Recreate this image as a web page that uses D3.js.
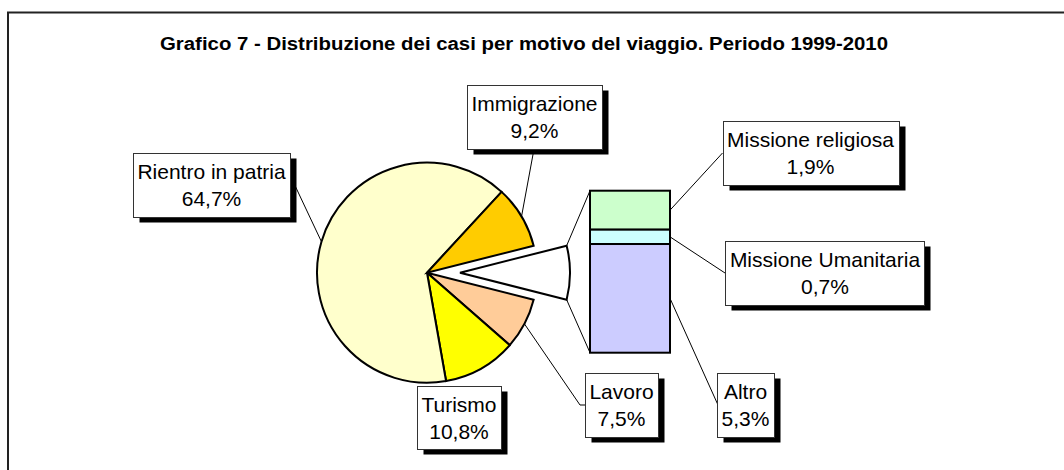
<!DOCTYPE html>
<html>
<head>
<meta charset="utf-8">
<script src="https://cdn.jsdelivr.net/npm/d3@7"></script>
<style>
  html, body { margin: 0; padding: 0; background: #fff; }
  svg { display: block; }
  text { font-family: "Liberation Sans", Arial, sans-serif; fill: #000; }
</style>
</head>
<body>
<svg id="chart" width="1064" height="470"></svg>
<script>
// ---------- data ----------
const title = "Grafico 7 - Distribuzione dei casi per motivo del viaggio. Periodo 1999-2010";
// slices of the pie, clockwise after the split-off slice
const pieCategories = ["Lavoro", "Turismo", "Rientro in patria", "Immigrazione"];
const pieValues = [7.5, 10.8, 64.7, 9.2];
const pieColors = ["#FFCC99", "#FFFF00", "#FFFFCC", "#FFCC00"];
// categories shown in the secondary stacked bar
const barCategories = ["Missione religiosa", "Missione Umanitaria", "Altro"];
const barValues = [1.9, 0.7, 5.3];
const barColors = ["#CCFFCC", "#CCFFFF", "#CCCCFF"];

// ---------- layout ----------
const W = 1064, H = 470;
const cx = 427, cy = 272.7, R = 110, explode = 33;
const barX0 = 590, barX1 = 670, barTop = 190.7, barH = 162;
const labelBoxes = {
  "Rientro in patria":   {cx: 211.5, y: 153, h: 64, anchor: [290, 175]},
  "Immigrazione":        {cx: 534.5, y: 85,  h: 64, anchor: [534, 149]},
  "Turismo":             {cx: 459,   y: 386, h: 63, anchor: null},
  "Lavoro":              {cx: 621.5, y: 373, h: 64, anchor: [586, 405], elbow: [580, 405]},
  "Missione religiosa":  {cx: 810.5, y: 121, h: 64, anchor: [722.5, 153]},
  "Missione Umanitaria": {cx: 825,   y: 241, h: 64, anchor: [725, 273]},
  "Altro":               {cx: 745.5, y: 373, h: 64, anchor: [718, 405]}
};

const loc = d3.formatLocale({decimal: ",", thousands: ".", grouping: [3], currency: ["", "€"]});
const fmt = v => loc.format(".1f")(v) + "%";

const svg = d3.select("#chart");
svg.append("rect").attr("width", W).attr("height", H).attr("fill", "#fff");

// frame (only left and top edges visible)
svg.append("path").attr("d", `M8,${H} V12.5 H${W}`)
  .attr("fill", "none").attr("stroke", "#222").attr("stroke-width", 2);

svg.append("text").attr("x", 524).attr("y", 50).attr("text-anchor", "middle")
  .attr("font-size", 18).attr("font-weight", "bold")
  .attr("textLength", 728).attr("lengthAdjust", "spacingAndGlyphs").text(title);

// ---------- pie ----------
const otherValue = d3.sum(barValues);
const total = otherValue + d3.sum(pieValues);
const pieData = [{name: "__other", value: otherValue, color: "#FFFFFF"}]
  .concat(pieCategories.map((c, i) => ({name: c, value: pieValues[i], color: pieColors[i]})));
const start = Math.PI / 2 - (otherValue / total) * Math.PI;
const arcs = d3.pie().sort(null).value(d => d.value)
  .startAngle(start).endAngle(start + 2 * Math.PI)(pieData);
const arcGen = d3.arc().innerRadius(0).outerRadius(R);
const pt = (a, r, dx = 0) => [cx + dx + r * Math.sin(a), cy - r * Math.cos(a)];

const leaders = svg.append("g").attr("fill", "none").attr("stroke", "#000").attr("stroke-width", 1);
const gPie = svg.append("g");
arcs.forEach(a => {
  const dx = a.data.name === "__other" ? explode : 0;
  gPie.append("path").attr("d", arcGen(a))
    .attr("transform", `translate(${cx + dx},${cy})`)
    .attr("fill", a.data.color).attr("stroke", "#000").attr("stroke-width", 2)
    .attr("stroke-linejoin", "miter");
});

// ---------- bar ----------
const y = d3.scaleLinear().domain([0, otherValue]).range([0, barH]);
let acc = 0;
const barSegs = barCategories.map((c, i) => {
  const s = {name: c, y0: barTop + y(acc), y1: barTop + y(acc + barValues[i]), color: barColors[i], value: barValues[i]};
  acc += barValues[i];
  return s;
});
const gBar = svg.append("g");
barSegs.forEach(s => {
  gBar.append("rect").attr("x", barX0).attr("y", s.y0).attr("width", barX1 - barX0).attr("height", s.y1 - s.y0)
    .attr("fill", s.color).attr("stroke", "#000").attr("stroke-width", 2);
});

// connector lines between split slice and bar
const otherArc = arcs[0];
const pA = pt(otherArc.startAngle, R, explode), pB = pt(otherArc.endAngle, R, explode);
leaders.append("line").attr("x1", pA[0]).attr("y1", pA[1]).attr("x2", barX0).attr("y2", barTop);
leaders.append("line").attr("x1", pB[0]).attr("y1", pB[1]).attr("x2", barX0).attr("y2", barTop + barH);

// ---------- leader lines ----------
arcs.slice(1).forEach(a => {
  const b = labelBoxes[a.data.name];
  if (!b || !b.anchor) return;
  const p = pt((a.startAngle + a.endAngle) / 2, R);
  const pts = [p];
  if (b.elbow) pts.push(b.elbow);
  pts.push(b.anchor);
  leaders.append("path").attr("d", d3.line()(pts));
});
barSegs.forEach(s => {
  const b = labelBoxes[s.name];
  leaders.append("line").attr("x1", barX1).attr("y1", (s.y0 + s.y1) / 2)
    .attr("x2", b.anchor[0]).attr("y2", b.anchor[1]);
});

// ---------- label boxes ----------
const labelItems = pieCategories.map((c, i) => ({name: c, value: pieValues[i]}))
  .concat(barCategories.map((c, i) => ({name: c, value: barValues[i]})));
const gLab = svg.append("g");
labelItems.forEach(d => {
  const b = labelBoxes[d.name];
  const g = gLab.append("g");
  const shadow = g.append("rect").attr("fill", "#000");
  const box = g.append("rect").attr("fill", "#fff").attr("stroke", "#333").attr("stroke-width", 1);
  const t1 = g.append("text").attr("x", b.cx).attr("y", b.y + 26).attr("text-anchor", "middle")
    .attr("font-size", 21).text(d.name);
  const t2 = g.append("text").attr("x", b.cx).attr("y", b.y + 52.5).attr("text-anchor", "middle")
    .attr("font-size", 21).text(fmt(d.value));
  const w = Math.max(t1.node().getComputedTextLength(), t2.node().getComputedTextLength()) + 9;
  const x = Math.round(b.cx - w / 2) + 0.5;
  box.attr("x", x).attr("y", b.y + 0.5).attr("width", Math.round(w)).attr("height", b.h);
  shadow.attr("x", x + 6).attr("y", b.y + 5.5).attr("width", Math.round(w)).attr("height", b.h);
});
</script>
</body>
</html>
